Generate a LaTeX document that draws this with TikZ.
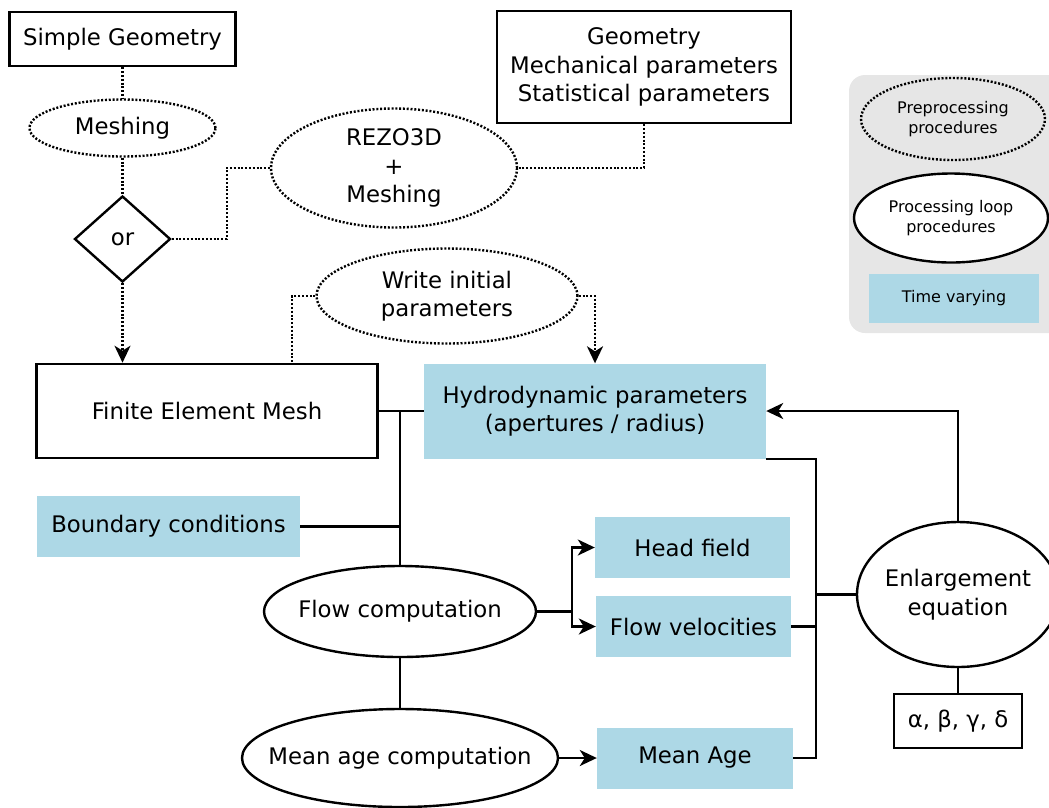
\documentclass[tikz,border=0pt]{standalone}
\usepackage{fontspec}
\setmainfont{DejaVu Sans}
\usepackage{xcolor}
\usetikzlibrary{shapes.geometric,arrows.meta}

\definecolor{tvblue}{RGB}{173,216,230}
\definecolor{legendgray}{RGB}{230,230,230}

\begin{document}
\begin{tikzpicture}[x=1pt,y=-1pt,
    font=\fontsize{22.8}{28.5}\selectfont,
    every node/.style={align=center,inner sep=0pt},
    box/.style={draw,rectangle,line width=2.6pt},
    tvbox/.style={rectangle,fill=tvblue},
    pre/.style={draw,ellipse,line width=2.4pt,dash pattern=on 2pt off 1.8pt,inner sep=-40pt},
    proc/.style={draw,ellipse,line width=2.4pt,inner sep=-40pt},
    link/.style={line width=2.4pt},
    dlink/.style={line width=2.4pt,dash pattern=on 2pt off 1.8pt},
    >={Stealth[length=17pt,width=16pt,inset=5pt]}]
    \useasboundingbox (0,0) rectangle (1049,807);

    % Legend
    \fill[legendgray,rounded corners=16pt] (849,75) rectangle (1080,333);
    \begin{scope}[font=\fontsize{16}{20}\selectfont]
        \node[pre,minimum width=184pt,minimum height=82pt] (lpre) at (953,119) {Preprocessing\\procedures};
        \node[proc,fill=white,minimum width=194pt,minimum height=89pt] (lproc) at (951,218) {Processing loop\\procedures};
        \node[tvbox,minimum width=170pt,minimum height=49pt] (ltime) at (954,298) {Time varying};
    \end{scope}

    % Preprocessing
    \node[box,minimum width=226pt,minimum height=54pt] (sgeo) at (122.5,39) {Simple Geometry};
    \node[pre,minimum width=186pt,minimum height=57pt] (mesh) at (122.5,128) {Meshing};
    \node[draw,diamond,line width=2.4pt,minimum width=96pt,minimum height=86pt] (orsel) at (122.5,239) {or};
    \node[pre,minimum width=246pt,minimum height=119pt] (rezo) at (394,168) {REZO3D\\+\\Meshing};
    \node[box,minimum width=294pt,minimum height=112pt] (geom) at (644,67) {Geometry\\Mechanical parameters\\Statistical parameters};
    \node[pre,minimum width=261pt,minimum height=95pt] (winit) at (447,296) {Write initial\\parameters};

    % Mesh and parameters
    \node[box,minimum width=341pt,minimum height=94pt] (fem) at (207,411) {Finite Element Mesh};
    \node[tvbox,minimum width=342pt,minimum height=95pt] (hydro) at (595,411) {Hydrodynamic parameters\\(apertures / radius)};
    \node[tvbox,minimum width=263pt,minimum height=61pt] (bc) at (168.5,526.5) {Boundary conditions};

    % Processing loop
    \node[proc,minimum width=272pt,minimum height=91pt] (flow) at (400,611.5) {Flow computation};
    \node[proc,minimum width=316pt,minimum height=98pt] (mage) at (400,758) {Mean age computation};
    \node[tvbox,minimum width=195pt,minimum height=61pt] (head) at (692.5,547.5) {Head field};
    \node[tvbox,minimum width=195pt,minimum height=61pt] (fvel) at (693.5,626.5) {Flow velocities};
    \node[tvbox,minimum width=196pt,minimum height=61pt] (mean) at (695,758) {Mean Age};
    \node[proc,minimum width=202pt,minimum height=145pt] (enl) at (958,594.5) {Enlargement\\equation};
    \node[box,minimum width=128pt,minimum height=54pt] (greek) at (958,721) {α, β, γ, δ};

    % Dotted connections
    \draw[dlink] (sgeo.south) -- (mesh.north);
    \draw[dlink] (mesh.south) -- (orsel.north);
    \draw[dlink,->] (orsel.south) -- (orsel.south |- fem.north);
    \draw[dlink] (orsel.east) -- ++(55,0) |- (rezo.west);
    \draw[dlink] (geom.south) |- (rezo.east);
    \draw[dlink] (winit.west) -| ([xshift=85pt]fem.north);
    \draw[dlink,->] (winit.east) -| (hydro.north);

    % Solid connections
    \draw[link] (fem.east) -- (hydro.west);
    \draw[link] (flow.north) -- (flow.north |- fem.east);
    \draw[link] (bc.east) -- (bc.east -| flow.north);
    \draw[link] (flow.south) -- (mage.north);
    \draw[link,->] (mage.east) -- (mean.west);
    \coordinate (fsplit) at ([xshift=35pt]flow.east);
    \draw[link,->] (flow.east) -- (fsplit) |- (head.west);
    \draw[link,->] (fsplit) |- (fvel.west);
    \coordinate (bus) at ([xshift=50pt]hydro.south east);
    \draw[link] (hydro.south east) -- (bus) |- (mean.east);
    \draw[link] (fvel.east) -- (fvel.east -| bus);
    \draw[link] (enl.west) -- (enl.west -| bus);
    \draw[link,->] (enl.north) |- (hydro.east);
    \draw[link] (enl.south) -- (greek.north);
\end{tikzpicture}
\end{document}
